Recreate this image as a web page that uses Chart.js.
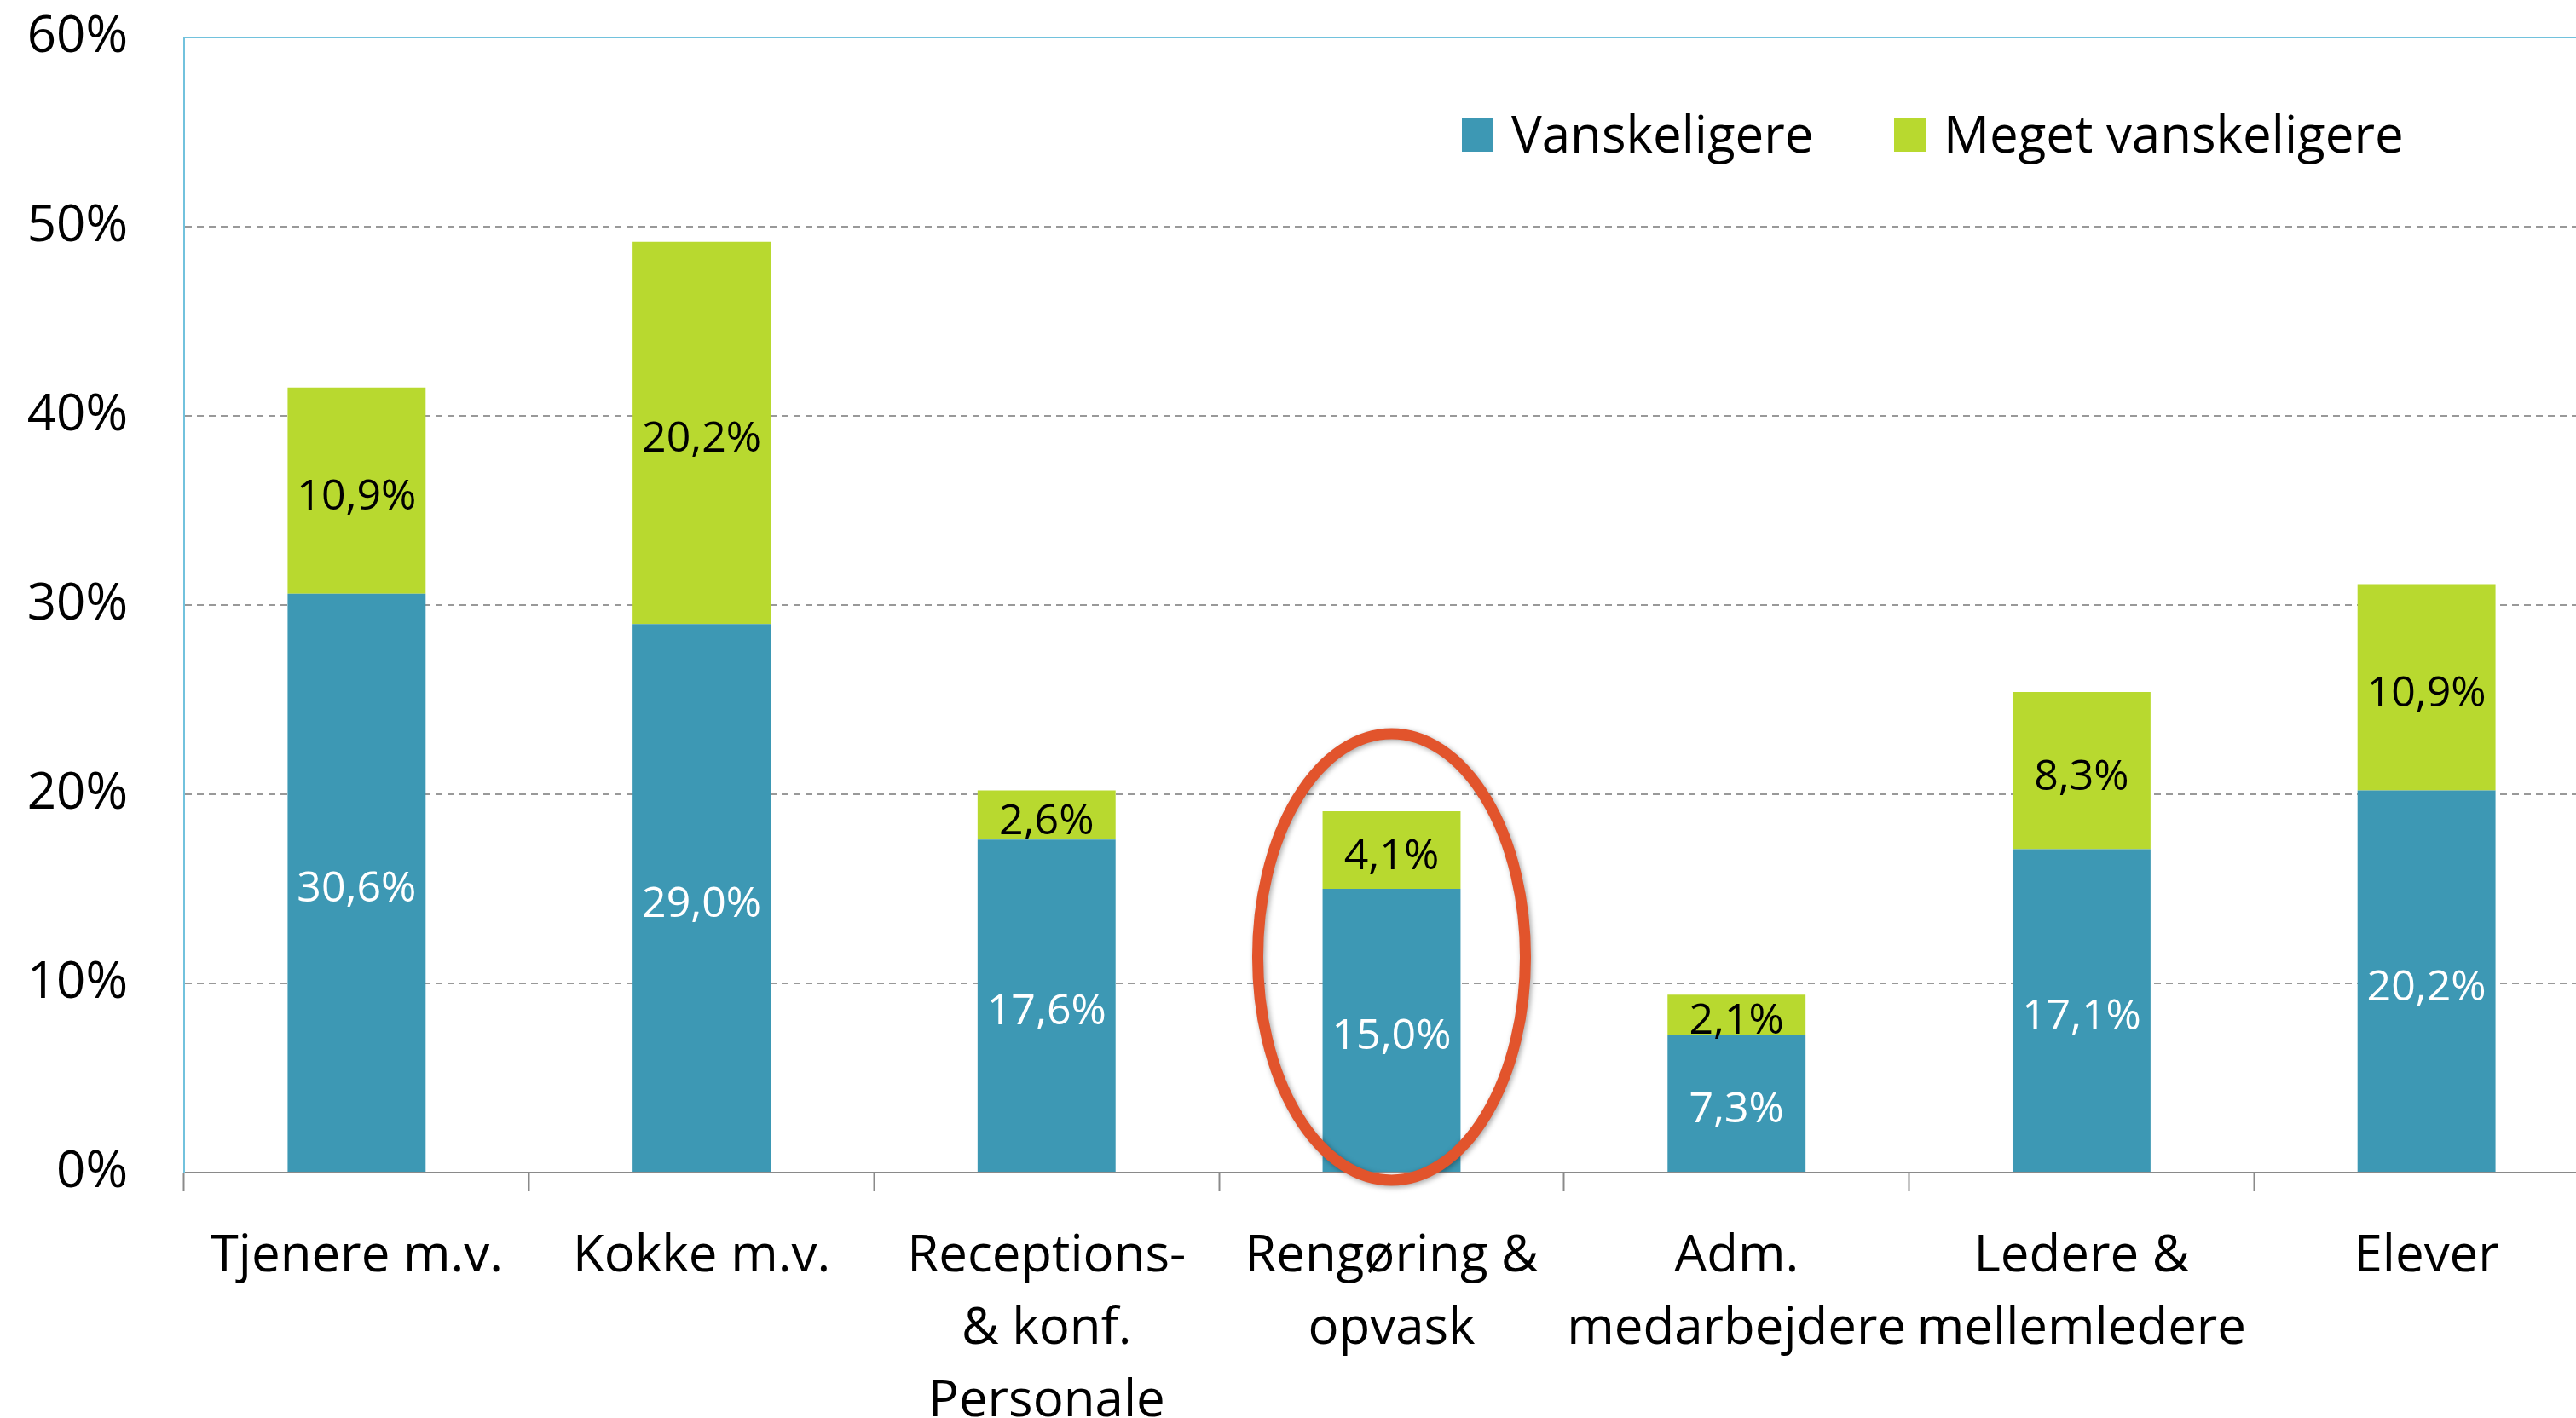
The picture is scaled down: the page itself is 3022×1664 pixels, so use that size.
<!DOCTYPE html>
<html lang="da">
  <head>
    <meta charset="UTF-8" />
    <title>Vanskeligere at rekruttere</title>
    <script src="https://cdn.jsdelivr.net/npm/chart.js@4.4.0/dist/chart.umd.min.js"></script>
    <style>
      html, body { margin: 0; padding: 0; background: #fff; overflow: hidden; }
      #wrap { width: 3060px; height: 1664px; position: relative; }
    </style>
  </head>
  <body>
    <div id="wrap"><canvas id="myChart"></canvas></div>

    <script>
      const categories = [
        "Tjenere m.v.",
        "Kokke m.v.",
        ["Receptions-", "& konf.", "Personale"],
        ["Rengøring &", "opvask"],
        ["Adm.", "medarbejdere"],
        ["Ledere &", "mellemledere"],
        "Elever",
      ];
      const vanskeligere = [30.6, 29.0, 17.6, 15.0, 7.3, 17.1, 20.2];
      const megetVanskeligere = [10.9, 20.2, 2.6, 4.1, 2.1, 8.3, 10.9];
      const yTicks = [0, 10, 20, 30, 40, 50, 60];

      // circled category and its ellipse (in value units)
      const markedCategory = 3;
      const markCenter = 11.4;
      const markRadius = 11.8;

      const blue = "#3D98B4";
      const green = "#B8D92F";
      const lightBlue = "#72C2DD";
      const axisGrey = "#8A8A8A";
      const labelColors = ["#ffffff", "#000000"];

      const fmt = (v) => v.toFixed(1).replace(".", ",") + "%";

      const valueLabels = {
        id: "valueLabels",
        afterDatasetsDraw(chart) {
          const ctx = chart.ctx;
          ctx.save();
          ctx.font = '50px "Open Sans"';
          ctx.textAlign = "center";
          ctx.textBaseline = "middle";
          chart.data.datasets.forEach((ds, i) => {
            chart.getDatasetMeta(i).data.forEach((bar, j) => {
              const p = bar.getProps(["x", "y", "base"], true);
              ctx.fillStyle = labelColors[i];
              ctx.fillText(fmt(ds.data[j]), p.x, (p.y + p.base) / 2 + 8);
            });
          });
          ctx.restore();
        },
      };

      const extras = {
        id: "extras",
        afterDraw(chart) {
          const ctx = chart.ctx;
          const area = chart.chartArea;
          const x = chart.scales.x;
          const y = chart.scales.y;
          ctx.save();

          // legend inside the plot
          ctx.font = '60px "Open Sans"';
          ctx.textBaseline = "middle";
          const starts = [1499, 2006];
          const ly = area.top + 114;
          chart.data.datasets.forEach((ds, i) => {
            const lx = area.left + starts[i];
            ctx.fillStyle = ds.backgroundColor;
            ctx.fillRect(lx, ly - 20, 37, 40);
            ctx.fillStyle = "#000";
            ctx.fillText(ds.label, lx + 58, ly + 4);
          });

          // red ellipse round the marked bar
          const cx = x.getPixelForValue(markedCategory);
          const cw = x.getPixelForValue(1) - x.getPixelForValue(0);
          const cy = y.getPixelForValue(markCenter);
          const ry = y.getPixelForValue(0) - y.getPixelForValue(markRadius);
          ctx.shadowColor = "rgba(0,0,0,0.35)";
          ctx.shadowBlur = 6;
          ctx.shadowOffsetX = 2;
          ctx.shadowOffsetY = 2;
          ctx.strokeStyle = "#E2542C";
          ctx.lineWidth = 13;
          ctx.beginPath();
          ctx.ellipse(cx, cy, cw * 0.388, ry, 0, 0, Math.PI * 2);
          ctx.stroke();
          ctx.restore();
        },
      };

      const ctx = document.getElementById("myChart").getContext("2d");
      const myChart = new Chart(ctx, {
        type: "bar",
        data: {
          labels: categories,
          datasets: [
            {
              label: "Vanskeligere",
              data: vanskeligere,
              backgroundColor: blue,
              barPercentage: 0.4,
              categoryPercentage: 1,
            },
            {
              label: "Meget vanskeligere",
              data: megetVanskeligere,
              backgroundColor: green,
              barPercentage: 0.4,
              categoryPercentage: 1,
            },
          ],
        },
        options: {
          responsive: true,
          maintainAspectRatio: false,
          animation: false,
          layout: { padding: { left: 0, top: 44, right: 11, bottom: 0 } },
          font: { family: '"Open Sans"' },
          plugins: {
            legend: { display: false },
            tooltip: { enabled: false },
          },
          scales: {
            x: {
              stacked: true,
              afterFit: (s) => {
                s.height = 288;
                s.paddingLeft = 0;
                s.paddingRight = 0;
              },
              border: { color: axisGrey, width: 2 },
              grid: {
                drawOnChartArea: false,
                drawTicks: true,
                tickLength: 22,
                tickColor: axisGrey,
                tickWidth: 2,
              },
              ticks: {
                color: "#000",
                autoSkip: false,
                maxRotation: 0,
                padding: 34,
                font: { family: '"Open Sans"', size: 60, lineHeight: 1.42 },
              },
            },
            y: {
              stacked: true,
              min: 0,
              max: 60,
              afterBuildTicks: (s) => { s.ticks = yTicks.map((v) => ({ value: v })); },
              afterFit: (s) => {
                s.width = 216;
                s.paddingTop = 0;
                s.paddingBottom = 0;
              },
              border: {
                color: lightBlue,
                width: 2,
                dash: (c) => (c.tick && c.tick.value === 60 ? [] : [8, 6]),
              },
              grid: {
                drawTicks: false,
                lineWidth: 2,
                color: (c) => {
                  if (!c.tick) return "#999";
                  if (c.tick.value === 60) return lightBlue;
                  if (c.tick.value === 0) return "rgba(0,0,0,0)";
                  return "#999";
                },
              },
              ticks: {
                color: "#000",
                padding: 66,
                font: { family: '"Open Sans"', size: 60 },
                callback: (v) => v + "%",
              },
            },
          },
        },
        plugins: [valueLabels, extras],
      });
    </script>
  </body>
</html>
